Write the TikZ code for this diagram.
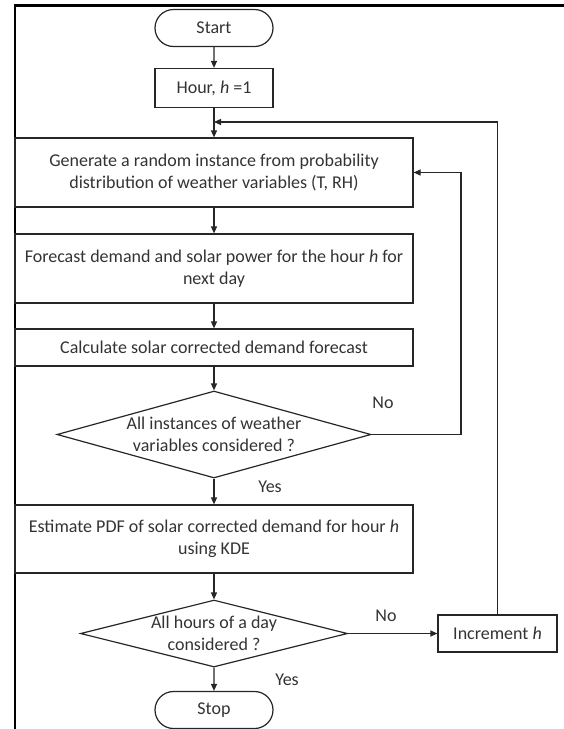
\documentclass[tikz,border=0pt]{standalone}
\usepackage{fontspec}
\setmainfont{Carlito}
\usetikzlibrary{arrows.meta,shapes.geometric,shapes.misc}
\begin{document}
\begin{tikzpicture}[x=1pt,y=-1pt,
  every node/.style={font=\fontsize{18}{22}\selectfont, text=black!80},
  base/.style={draw=black!85, line width=1.2pt, inner sep=0pt, align=center},
  procbox/.style={base, rectangle, minimum width=398pt},
  smallbox/.style={base, rectangle},
  term/.style={base, rounded rectangle, minimum width=118pt, minimum height=37pt},
  decision/.style={base, diamond},
  lbl/.style={inner sep=0pt},
  arr/.style={draw=black!85, line width=1.2pt, -{Triangle[length=7pt,width=6pt]}},
  ln/.style={draw=black!85, line width=1.2pt}
]
\useasboundingbox (0,0) rectangle (564,729);
% frame
\draw[line width=3pt, black] (15,5.5) -- (564,5.5);
\draw[line width=1.8pt, black] (15,4) -- (15,729);

\node[term] (start) at (214,28) {Start};
\node[smallbox, minimum width=118pt, minimum height=39pt] (hour) at (214,88) {Hour, \textit{h} =1};
\coordinate (j) at (214,122);
\node[procbox, minimum height=69pt] (gen) at (214,172.5) {Generate a random instance from probability\\distribution of weather variables (T, RH)};
\node[procbox, minimum height=69pt] (fc) at (214,268.5) {Forecast demand and solar power for the hour \textit{h} for\\next day};
\node[procbox, minimum height=37pt] (calc) at (214,347.5) {Calculate solar corrected demand forecast};
\node[decision, shape aspect=3.61, inner ysep=-2pt, minimum width=314pt, minimum height=87pt] (d1) at (214,434.5) {All instances of weather\\variables considered ?};
\node[procbox, minimum height=68pt] (est) at (214,539) {Estimate PDF of solar corrected demand for hour \textit{h}\\using KDE};
\node[decision, shape aspect=3.98, inner ysep=-4pt, minimum width=267pt, minimum height=67pt] (d2) at (214,633.5) {All hours of a day\\considered ?};
\node[smallbox, minimum width=119pt, minimum height=37pt] (inc) at (497.5,633.5) {Increment \textit{h}};
\node[term] (stop) at (214,710) {Stop};

\draw[arr] (start) -- (hour);
\draw[arr] (hour) -- (gen);
\draw[arr] (gen) -- (fc);
\draw[arr] (fc) -- (calc);
\draw[arr] (calc) -- (d1);
\draw[arr] (d1) -- (est);
\draw[arr] (est) -- (d2);
\draw[arr] (d2) -- (stop);
\draw[arr] (d2) -- (inc);
\draw[arr] (d1.east) -- (461,434.5) |- (gen.east);
\draw[arr] (inc.north) |- (j);

\node[lbl] (no1) at (383,403) {No};
\node[lbl] (yes1) at (270,487) {Yes};
\node[lbl] (no2) at (386,616) {No};
\node[lbl] (yes2) at (287,680) {Yes};
\end{tikzpicture}
\end{document}
